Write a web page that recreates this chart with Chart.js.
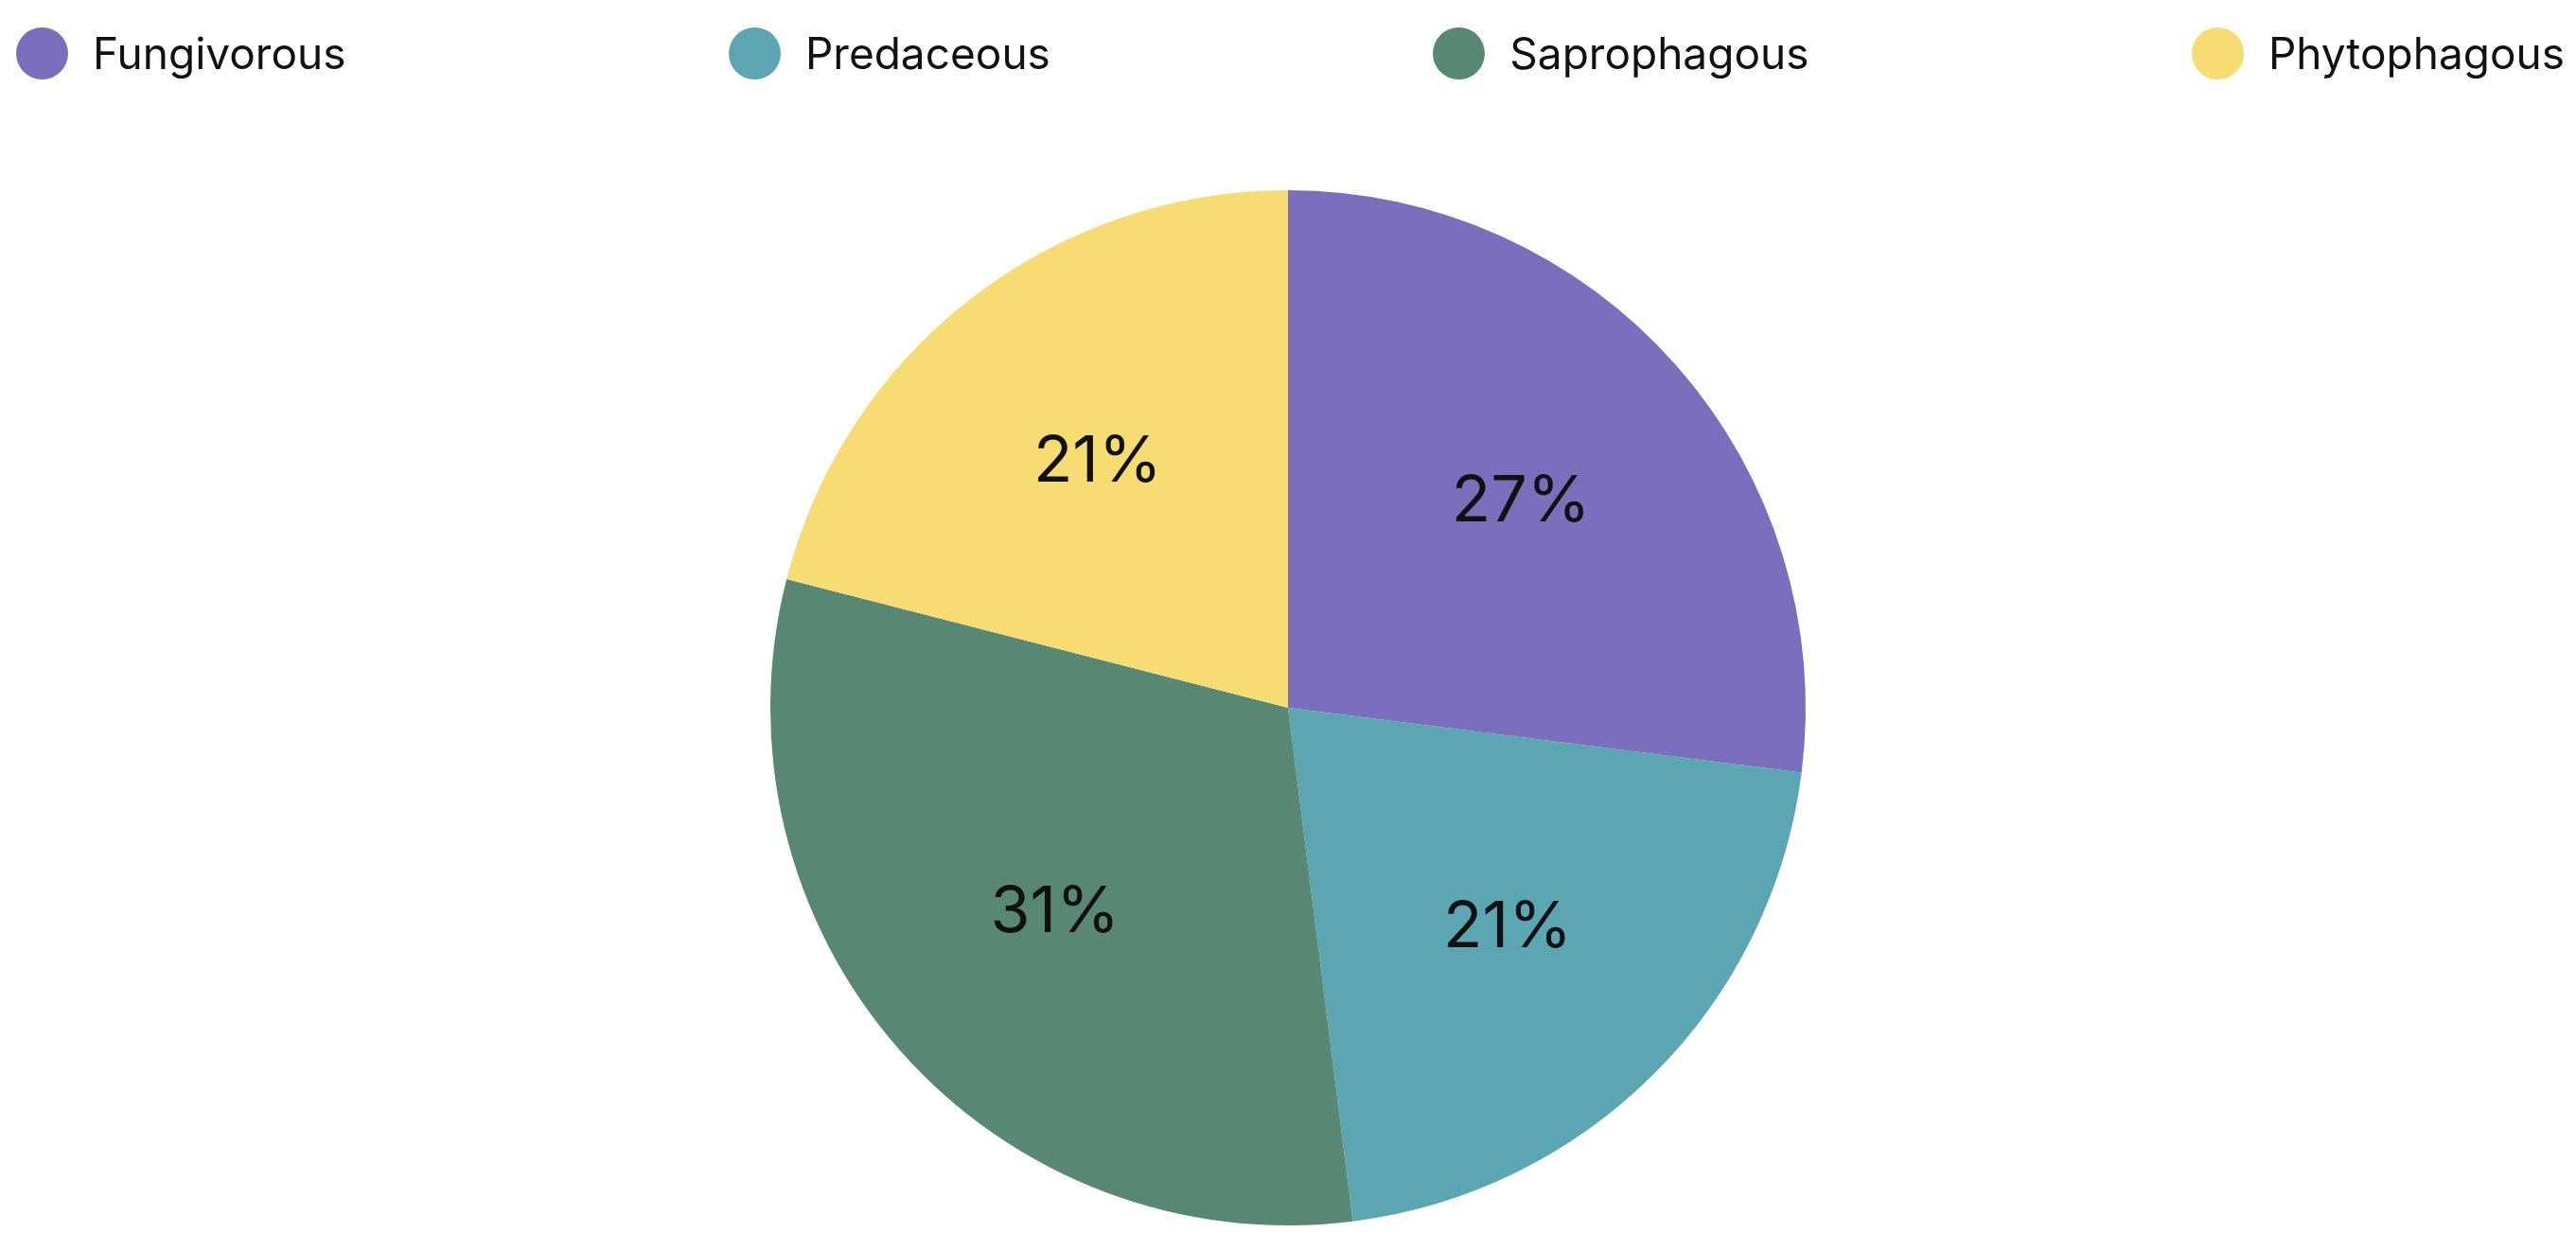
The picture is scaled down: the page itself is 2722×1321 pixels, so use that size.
<!DOCTYPE html>
<html><head><meta charset="utf-8">
<script src="https://cdn.jsdelivr.net/npm/chart.js@4"></script>
<style>
body{margin:0;background:#fff;font-family:Inter,"Open Sans",sans-serif;}
#wrap{position:relative;width:2722px;height:1321px;}
#legend{position:absolute;top:28px;left:17px;right:12px;display:flex;justify-content:space-between;align-items:center;z-index:2;}
.item{display:flex;align-items:center;font-size:46px;color:#111;}
.dot{width:55px;height:55px;border-radius:50%;margin-right:26px;}
#pie{position:absolute;left:0;top:0;}
</style></head><body>
<div id="wrap">
<div id="legend"></div>
<canvas id="pie" width="2722" height="1321"></canvas>
</div>
<script>
const labels=["Fungivorous","Predaceous","Saprophagous","Phytophagous"];
const values=[27,21,31,21];
const colors=["#7b6ebd","#5ca5b3","#588873","#f7dc73"];

let lg=document.getElementById("legend");
labels.forEach((l,i)=>{
  lg.innerHTML+=`<div class="item"><span class="dot" style="background:${colors[i]}"></span>${l}</div>`;
});

const pctLabels={
  id:"pctLabels",
  afterDatasetsDraw(chart){
    let ctx=chart.ctx,meta=chart.getDatasetMeta(0);
    let total=values.reduce((a,b)=>a+b,0);
    ctx.save();
    ctx.font="68px Inter, sans-serif";
    ctx.fillStyle="#111";
    ctx.textAlign="center";ctx.textBaseline="middle";
    meta.data.forEach((arc,i)=>{
      let p=arc.getProps(["x","y","startAngle","endAngle","outerRadius"],true);
      let a=(p.startAngle+p.endAngle)/2,r=p.outerRadius*0.6;
      ctx.fillText(Math.round(values[i]/total*100)+"%",p.x+Math.cos(a)*r,p.y+Math.sin(a)*r);
    });
    ctx.restore();
  }
};

new Chart(document.getElementById("pie"),{
  type:"pie",
  data:{labels:labels,datasets:[{data:values,backgroundColor:colors,borderWidth:0}]},
  options:{responsive:false,animation:false,devicePixelRatio:1,
    layout:{padding:{top:201,bottom:26}},
    plugins:{legend:{display:false},tooltip:{enabled:false}}},
  plugins:[pctLabels]
});
</script>
</body></html>
